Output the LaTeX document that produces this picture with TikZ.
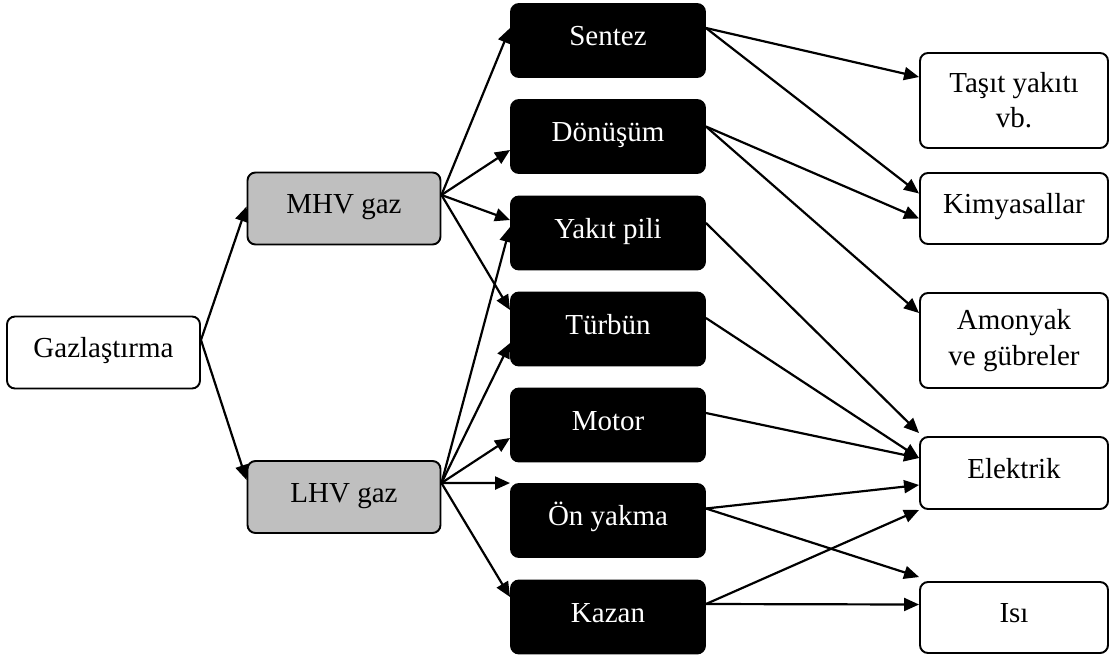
\documentclass[tikz,border=0pt]{standalone}
\usepackage{fontspec}
\setmainfont{Liberation Serif}
\usetikzlibrary{arrows.meta}

\begin{document}
\begin{tikzpicture}[
    base/.style={rectangle, rounded corners=0.16cm, draw=black, line width=1.1pt, fill=white, minimum width=3.86cm, minimum height=1.44cm, align=center, inner sep=0pt, font=\fontsize{16.5}{20}\selectfont},
    box/.style={base, text height=0.42cm, text depth=0.22cm},
    gas/.style={box, fill=black!25},
    proc/.style={box, fill=black, text=white, minimum width=3.88cm, minimum height=1.46cm},
    product/.style={box, minimum width=3.76cm},
    tallproduct/.style={base, minimum width=3.76cm, minimum height=1.9cm},
    flow/.style={line width=1.25pt, -{Triangle[length=0.3cm, width=0.26cm]}}
]
    \useasboundingbox (0,0) rectangle (22.2,-13.18);

    % Source and gas types
    \node[box] (gaz) at (2.07, -7.05) {Gazlaştırma};
    \node[gas] (mhv) at (6.88, -4.17) {MHV gaz};
    \node[gas] (lhv) at (6.88, -9.94) {LHV gaz};

    % Conversion technologies
    \node[proc] (sentez) at (12.16, -0.81) {Sentez};
    \node[proc] (donusum) at (12.16, -2.73) {Dönüşüm};
    \node[proc] (yakit) at (12.16, -4.66) {Yakıt pili};
    \node[proc] (turbun) at (12.16, -6.58) {Türbün};
    \node[proc] (motor) at (12.16, -8.5) {Motor};
    \node[proc] (onyakma) at (12.16, -10.41) {Ön yakma};
    \node[proc] (kazan) at (12.16, -12.34) {Kazan};

    % Products
    \node[tallproduct] (tasit) at (20.28, -2.01) {Taşıt yakıtı \\ vb.};
    \node[product, minimum height=1.42cm] (kimya) at (20.28, -4.17) {Kimyasallar};
    \node[tallproduct] (amonyak) at (20.28, -6.81) {Amonyak \\ ve gübreler};
    \node[product] (elektrik) at (20.28, -9.46) {Elektrik};
    \node[product, minimum height=1.42cm] (isi) at (20.28, -12.35) {Isı};

    % Gazlastirma -> gas
    \draw[flow] ([yshift=0.25cm]gaz.east) -- ([yshift=0.04cm]mhv.west);
    \draw[flow] ([yshift=0.25cm]gaz.east) -- ([yshift=0.34cm]lhv.west);

    % MHV gaz -> technologies
    \draw[flow] ([yshift=0.27cm]mhv.east) -- ([yshift=0.25cm]sentez.west);
    \draw[flow] ([yshift=0.27cm]mhv.east) -- ([yshift=-0.27cm]donusum.west);
    \draw[flow] ([yshift=0.27cm]mhv.east) -- ([yshift=0.26cm]yakit.west);
    \draw[flow] ([yshift=0.27cm]mhv.east) -- ([yshift=0.38cm]turbun.west);

    % LHV gaz -> technologies
    \draw[flow] ([yshift=0.28cm]lhv.east) -- ([yshift=0.12cm]yakit.west);
    \draw[flow] ([yshift=0.28cm]lhv.east) -- ([yshift=-0.28cm]turbun.west);
    \draw[flow] ([yshift=0.28cm]lhv.east) -- ([yshift=-0.26cm]motor.west);
    \draw[flow] ([yshift=0.28cm]lhv.east) -- (onyakma.north west);
    \draw[flow] ([yshift=0.28cm]lhv.east) -- ([yshift=0.4cm]kazan.west);

    % Technologies -> products
    \draw[flow] ([yshift=0.25cm]sentez.east) -- ([yshift=0.47cm]tasit.west);
    \draw[flow] ([yshift=0.25cm]sentez.east) -- ([yshift=0.3cm]kimya.west);
    \draw[flow] ([yshift=0.2cm]donusum.east) -- ([yshift=-0.2cm]kimya.west);
    \draw[flow] ([yshift=0.2cm]donusum.east) -- ([yshift=0.55cm]amonyak.west);
    \draw[flow] ([yshift=0.2cm]yakit.east) -- ([yshift=0.06cm]elektrik.north west);
    \draw[flow] ([yshift=0.22cm]turbun.east) -- ([yshift=0.3cm]elektrik.west);
    \draw[flow] ([yshift=0.24cm]motor.east) -- ([yshift=0.3cm]elektrik.west);
    \draw[flow] ([yshift=0.24cm]onyakma.east) -- ([yshift=-0.24cm]elektrik.west);
    \draw[flow] ([yshift=0.24cm]onyakma.east) -- ([yshift=0.08cm]isi.north west);
    \draw[flow] ([yshift=0.26cm]kazan.east) -- (elektrik.south west);
    \draw[flow] ([yshift=0.26cm]kazan.east) -- ([yshift=0.26cm]isi.west);

\end{tikzpicture}
\end{document}
